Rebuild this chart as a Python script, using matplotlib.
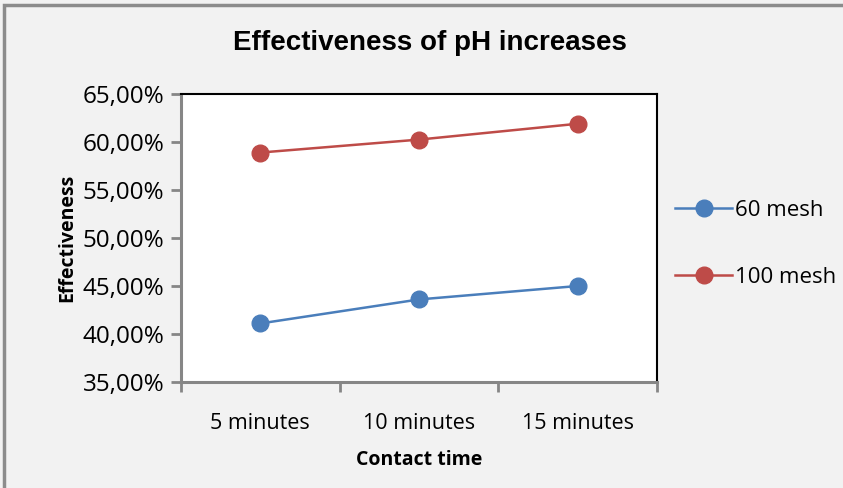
import matplotlib.pyplot as plt
from matplotlib.patches import Rectangle
from matplotlib.ticker import FuncFormatter

# Data
categories = ['5 minutes', '10 minutes', '15 minutes']
mesh_60 = [41.1, 43.6, 45.0]
mesh_100 = [58.9, 60.25, 61.9]
y_ticks = [35, 40, 45, 50, 55, 60, 65]

plt.rcParams['font.family'] = ['Open Sans', 'DejaVu Sans']

fig = plt.figure(figsize=(8.43, 4.88), dpi=100, facecolor='#f2f2f2')
ax = fig.add_axes([0.2147, 0.2172, 0.5647, 0.5902])
ax.set_facecolor('white')

# outer chart border
fig.patches.append(Rectangle((0.005, -0.01), 1.2, 1.0, transform=fig.transFigure,
                             fill=False, edgecolor='#8c8c8c', linewidth=2.5))

x = range(len(categories))
ax.plot(x, mesh_60, color='#4a7ebb', linewidth=1.8, marker='o', markersize=12, label='60 mesh')
ax.plot(x, mesh_100, color='#be4b48', linewidth=1.8, marker='o', markersize=12, label='100 mesh')

ax.set_xlim(-0.5, 2.5)
ax.set_ylim(35, 65)
ax.set_yticks(y_ticks)
ax.yaxis.set_major_formatter(FuncFormatter(lambda v, p: f'{v:.2f}%'.replace('.', ',')))

# category labels centred, ticks between categories
ax.set_xticks([-0.5, 0.5, 1.5, 2.5])
ax.set_xticklabels([])
ax.set_xticks(list(x), minor=True)
ax.set_xticklabels(categories, minor=True)
ax.tick_params(axis='x', which='minor', length=0, labelsize=15.5, pad=22)
ax.tick_params(axis='x', which='major', length=7, width=2, color='#868686')
ax.tick_params(axis='y', length=7, width=2, color='#868686', labelsize=17.5, pad=5)

for side in ['left', 'bottom']:
    ax.spines[side].set_color('#868686')
    ax.spines[side].set_linewidth(2.2)
for side in ['top', 'right']:
    ax.spines[side].set_color('black')
    ax.spines[side].set_linewidth(1.5)

ax.set_xlabel('Contact time', fontsize=14, fontweight='bold', labelpad=12)
ax.set_ylabel('Effectiveness', fontsize=14, fontweight='bold', labelpad=4)

fig.text(0.51, 0.912, 'Effectiveness of pH increases', ha='center', va='center',
         fontsize=20, fontweight='bold', family=['Liberation Sans', 'DejaVu Sans'])

ax.legend(loc='center left', bbox_to_anchor=(0.995, 0.48), frameon=False, fontsize=16,
          labelspacing=2.05, handlelength=2.6, handletextpad=0.1)

fig.savefig('out.png', dpi=100, facecolor=fig.get_facecolor())
